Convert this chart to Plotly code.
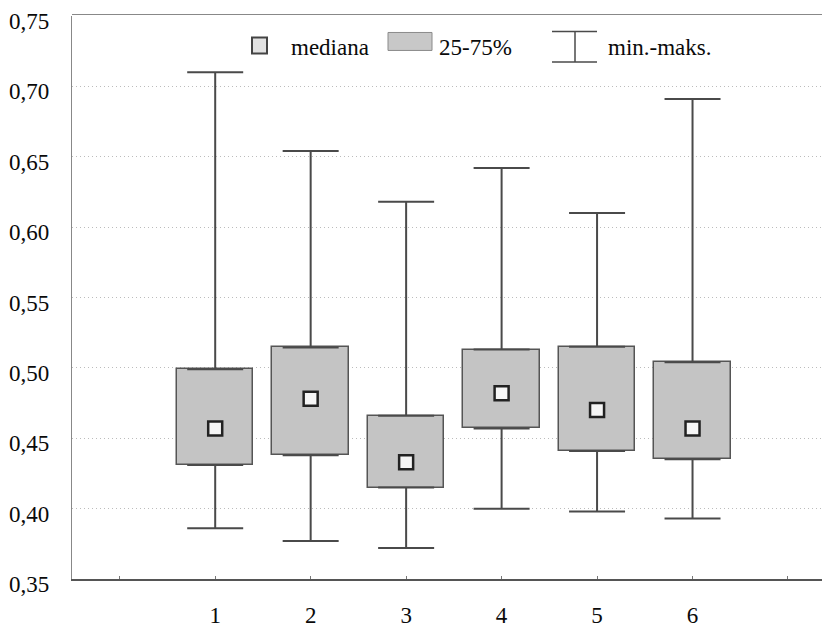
import plotly.graph_objects as go

# ---- data ----
groups = [1, 2, 3, 4, 5, 6]
mins = [0.386, 0.377, 0.372, 0.400, 0.398, 0.393]
q1s = [0.431, 0.438, 0.415, 0.457, 0.441, 0.435]
medians = [0.457, 0.478, 0.433, 0.482, 0.470, 0.457]
q3s = [0.499, 0.5145, 0.466, 0.513, 0.515, 0.504]
maxs = [0.710, 0.654, 0.618, 0.642, 0.610, 0.691]
y_ticks = [0.35, 0.40, 0.45, 0.50, 0.55, 0.60, 0.65, 0.70, 0.75]
x_ticks = [0, 1, 2, 3, 4, 5, 6, 7]
x_labels = ["", "1", "2", "3", "4", "5", "6", ""]
legend_labels = ["mediana", "25-75%", "min.-maks."]

# page has an 8px body margin, so the figure is 8px smaller than the window
OFF = 8
W, H = 830 - OFF, 627 - OFF
PLOT_L, PLOT_R, PLOT_T, PLOT_B = 72, 830, 15.5, 579.5   # window pixels
ML, MR = PLOT_L - OFF, 830 - PLOT_R
MT, MB = PLOT_T - OFF, 627 - PLOT_B
FONT = "Liberation Serif"
DARK = "#4a4a4a"
TXT = "#0a0a0a"

fig = go.Figure()

# interquartile boxes
fig.add_trace(go.Bar(
    x=groups, y=[b - a for a, b in zip(q1s, q3s)], base=q1s, width=0.8,
    marker=dict(color="#c4c4c4", line=dict(color="#555555", width=1.5)),
    showlegend=False, hoverinfo="skip"))

# upper whiskers
fig.add_trace(go.Scatter(
    x=groups, y=q3s, mode="markers", marker=dict(opacity=0),
    error_y=dict(type="data", symmetric=False,
                 array=[m - q for m, q in zip(maxs, q3s)],
                 arrayminus=[0] * len(groups),
                 width=28, thickness=2, color=DARK),
    showlegend=False, hoverinfo="skip"))
# lower whiskers
fig.add_trace(go.Scatter(
    x=groups, y=q1s, mode="markers", marker=dict(opacity=0),
    error_y=dict(type="data", symmetric=False,
                 array=[0] * len(groups),
                 arrayminus=[q - m for m, q in zip(mins, q1s)],
                 width=28, thickness=2, color=DARK),
    showlegend=False, hoverinfo="skip"))

# medians
fig.add_trace(go.Scatter(
    x=groups, y=medians, mode="markers",
    marker=dict(symbol="square", size=14, color="#f6f6f6",
                line=dict(color="#222222", width=2.5)),
    showlegend=False, hoverinfo="skip"))


def px(xp):
    return (xp - PLOT_L) / (PLOT_R - PLOT_L)


def py(yp):
    return (PLOT_B - yp) / (PLOT_B - PLOT_T)


shapes = [
    # top frame line
    dict(type="line", xref="paper", yref="paper", x0=0, x1=1, y0=py(14), y1=py(14),
         line=dict(color="#888888", width=1.2)),
    # legend: median icon
    dict(type="rect", xref="paper", yref="paper", x0=px(252), x1=px(267),
         y0=py(53), y1=py(37), fillcolor="#e2e2e2",
         line=dict(color="#444444", width=2)),
    # legend: box icon
    dict(type="rect", xref="paper", yref="paper", x0=px(388), x1=px(432),
         y0=py(50), y1=py(32), fillcolor="#c8c8c8",
         line=dict(color="#8a8a8a", width=1)),
    # legend: whisker icon
    dict(type="line", xref="paper", yref="paper", x0=px(552), x1=px(597),
         y0=py(31), y1=py(31), line=dict(color=DARK, width=1.5)),
    dict(type="line", xref="paper", yref="paper", x0=px(552), x1=px(597),
         y0=py(61.5), y1=py(61.5), line=dict(color=DARK, width=1.5)),
    dict(type="line", xref="paper", yref="paper", x0=px(575), x1=px(575),
         y0=py(31), y1=py(61.5), line=dict(color=DARK, width=1.5)),
]

annotations = []
for xp, txt in zip([289, 437, 606], legend_labels):
    annotations.append(dict(
        xref="paper", yref="paper", x=px(xp), y=py(47), text=txt,
        showarrow=False, xanchor="left", yanchor="middle",
        font=dict(family=FONT, size=23, color=TXT)))

fig.update_layout(
    width=W, height=H,
    margin=dict(l=ML, r=MR, t=MT, b=MB, pad=0, autoexpand=False),
    paper_bgcolor="white", plot_bgcolor="white",
    separators=", ",
    bargap=0,
    shapes=shapes, annotations=annotations,
    font=dict(family=FONT, size=23, color=TXT),
    xaxis=dict(range=[-0.5, 7.44], tickvals=x_ticks, ticktext=x_labels,
               automargin=False,
               showgrid=False, zeroline=False, showline=True,
               linecolor="#555555", linewidth=1.5,
               ticks="inside", ticklen=3, tickcolor="#777777",
               ticklabelstandoff=15,
               tickfont=dict(family=FONT, size=23, color=TXT)),
    yaxis=dict(range=[0.35, 0.75], tickvals=y_ticks, tickformat=".2f",
               automargin=False,
               showgrid=True, gridcolor="#bcbcbc", griddash="1px,3px",
               gridwidth=1, zeroline=False, showline=True,
               linecolor="#888888", linewidth=1.2, ticks="",
               ticklabelstandoff=17, ticklabelshift=5,
               tickfont=dict(family=FONT, size=23, color=TXT)),
)

fig.write_html("out.html")
